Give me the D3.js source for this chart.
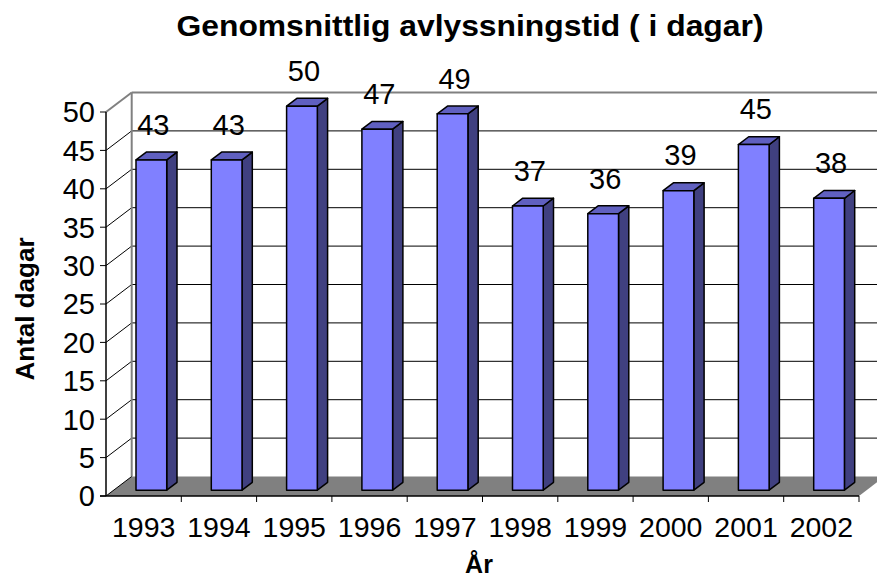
<!DOCTYPE html>
<html><head><meta charset="utf-8">
<script src="https://cdn.jsdelivr.net/npm/d3@7"></script>
<style>body{margin:0;background:#fff}svg{display:block}text{font-family:"Liberation Sans",Arial,sans-serif}</style>
</head><body>
<script>
const years = ["1993","1994","1995","1996","1997","1998","1999","2000","2001","2002"];
const values = [43,43,50,47,49,37,36,39,45,38];
const yTicks = [0,5,10,15,20,25,30,35,40,45,50];
const title = "Genomsnittlig avlyssningstid ( i dagar)";
const yTitle = "Antal dagar";
const xTitle = "År";

const W = 877, H = 579;
const DX = 25.7, DY = 19.5;   // full depth projection
const D0 = 0.3, D1 = 0.7;     // bar depth range
const svg = d3.select("body").append("svg").attr("width", W).attr("height", H);
svg.append("rect").attr("width", W).attr("height", H).attr("fill", "#fff");

const x = d3.scaleBand().domain(years).range([106, 859]);
const y = d3.scaleLinear().domain([0, 50]).range([496, 112]);
const bw = x.bandwidth() * 0.408;
const P = (px, py, d) => [px + d * DX, py - d * DY];
const pts = a => a.map(p => p.join(",")).join(" ");

const x0 = x.range()[0], x1 = x.range()[1];

// back wall gridlines
yTicks.forEach(t => {
  if (t === 0 || t === 50) return;
  const a = P(x0, y(t), 1), b = P(x1, y(t), 1);
  svg.append("line").attr("x1", a[0]).attr("y1", a[1]).attr("x2", b[0]).attr("y2", b[1])
    .attr("stroke", "#000").attr("stroke-width", 1);
  const c = P(x0, y(t), 0);
  svg.append("line").attr("x1", c[0]).attr("y1", c[1]).attr("x2", a[0]).attr("y2", a[1])
    .attr("stroke", "#000").attr("stroke-width", 1);
});
// wall borders (gray)
{
  const tl = P(x0, y(50), 1), tr = P(x1, y(50), 1), bl = P(x0, y(0), 1), fl = P(x0, y(50), 0);
  svg.append("line").attr("x1", tl[0]).attr("y1", tl[1]).attr("x2", tr[0]).attr("y2", tr[1])
    .attr("stroke", "#808080").attr("stroke-width", 2);
  svg.append("line").attr("x1", tl[0]).attr("y1", tl[1]).attr("x2", bl[0]).attr("y2", bl[1])
    .attr("stroke", "#808080").attr("stroke-width", 2);
  svg.append("line").attr("x1", fl[0]).attr("y1", fl[1]).attr("x2", tl[0]).attr("y2", tl[1])
    .attr("stroke", "#808080").attr("stroke-width", 2);
}
// floor
svg.append("polygon")
  .attr("points", pts([P(x0, y(0), 0), P(x1, y(0), 0), P(x1, y(0), 1), P(x0, y(0), 1)]))
  .attr("fill", "#808080").attr("stroke", "none");
{
  const a = P(x0, y(0), 0), b = P(x0, y(0), 1);
  svg.append("line").attr("x1", a[0]).attr("y1", a[1]).attr("x2", b[0]).attr("y2", b[1])
    .attr("stroke", "#000").attr("stroke-width", 1);
}

// bars
const g = svg.append("g").attr("stroke", "#000").attr("stroke-width", 1.5).attr("stroke-linejoin", "round");
years.forEach((yr, i) => {
  const v = values[i];
  const l = x(yr) + (x.bandwidth() - bw) / 2, r = l + bw;
  const yt = y(v), yb = y(0);
  g.append("polygon").attr("points", pts([P(r, yb, D0), P(r, yb, D1), P(r, yt, D1), P(r, yt, D0)]))
    .attr("fill", "#404080");
  g.append("polygon").attr("points", pts([P(l, yt, D0), P(r, yt, D0), P(r, yt, D1), P(l, yt, D1)]))
    .attr("fill", "#6060C0");
  g.append("polygon").attr("points", pts([P(l, yb, D0), P(r, yb, D0), P(r, yt, D0), P(l, yt, D0)]))
    .attr("fill", "#8080FF");
  const c = P((l + r) / 2, yt, D0);
  svg.append("text").attr("x", c[0] + 2).attr("y", yt - 31)
    .attr("text-anchor", "middle").attr("font-size", 29).attr("fill", "#000").text(v);
});

// y axis
svg.append("line").attr("x1", x0).attr("y1", y(0)).attr("x2", x0).attr("y2", y(50))
  .attr("stroke", "#000").attr("stroke-width", 1.5);
yTicks.forEach(t => {
  svg.append("line").attr("x1", x0 - 6).attr("y1", y(t)).attr("x2", x0).attr("y2", y(t))
    .attr("stroke", "#000").attr("stroke-width", 1);
  svg.append("text").attr("x", 95).attr("y", y(t)).attr("dy", "0.36em")
    .attr("text-anchor", "end").attr("font-size", 29).attr("fill", "#000").text(t);
});
// x axis
svg.append("line").attr("x1", x0 - 6).attr("y1", y(0)).attr("x2", x1).attr("y2", y(0))
  .attr("stroke", "#000").attr("stroke-width", 1.5);
years.forEach((yr, i) => {
  const xb = x(yr) + x.bandwidth();
  svg.append("line").attr("x1", xb).attr("y1", y(0)).attr("x2", xb).attr("y2", y(0) + 6)
    .attr("stroke", "#000").attr("stroke-width", 1);
  svg.append("text").attr("x", x(yr) + x.bandwidth() / 2).attr("y", 537)
    .attr("text-anchor", "middle").attr("font-size", 28.5).attr("fill", "#000").text(yr);
});

// titles
svg.append("text").attr("x", 470).attr("y", 36).attr("text-anchor", "middle")
  .attr("font-size", 29).attr("font-weight", "bold")
  .attr("textLength", 587).attr("lengthAdjust", "spacingAndGlyphs").text(title);
svg.append("text").attr("transform", "translate(34,309) rotate(-90)").attr("text-anchor", "middle")
  .attr("font-size", 26).attr("font-weight", "bold").text(yTitle);
svg.append("text").attr("x", 479).attr("y", 573).attr("text-anchor", "middle")
  .attr("font-size", 25).attr("font-weight", "bold").text(xTitle);
</script>
</body></html>
